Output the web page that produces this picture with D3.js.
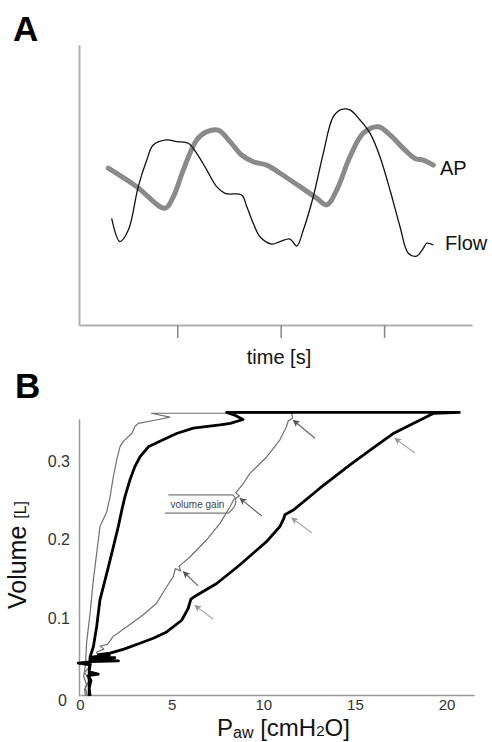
<!DOCTYPE html>
<html><head><meta charset="utf-8">
<script src="https://cdn.jsdelivr.net/npm/d3@7"></script>
<style>
body{margin:0;background:#fff;}
svg{display:block;font-family:Arial,"Liberation Sans",Helvetica,sans-serif;}
</style>
</head><body>
<svg id="c" width="492" height="742"></svg>
<script>
// ---------- Panel A data (time in s, arbitrary units) ----------
const timeTicks = [1, 2, 3];
const flowT = [0.366,0.446,0.527,0.623,0.705,0.768,0.898,0.995,1.107,1.188,1.285,1.381,1.462,1.623,1.672,1.735,1.800,1.913,1.994,2.090,2.155,2.219,2.315,2.412,2.509,2.590,2.670,2.767,2.864,2.960,3.057,3.154,3.234,3.315,3.379,3.412,3.476];
const flowV = [0.381,0.298,0.339,0.494,0.589,0.643,0.661,0.655,0.649,0.613,0.554,0.494,0.470,0.464,0.423,0.363,0.315,0.289,0.298,0.307,0.282,0.339,0.458,0.613,0.744,0.770,0.768,0.732,0.685,0.601,0.482,0.351,0.256,0.246,0.274,0.292,0.286];
const apT = [0.333,0.608,0.882,0.962,1.059,1.188,1.285,1.397,1.510,1.623,1.735,1.865,1.994,2.187,2.348,2.445,2.542,2.670,2.799,2.944,3.057,3.186,3.299,3.379,3.476];
const apV = [0.560,0.494,0.417,0.458,0.554,0.661,0.690,0.696,0.655,0.607,0.583,0.571,0.542,0.494,0.453,0.429,0.482,0.601,0.685,0.708,0.679,0.631,0.595,0.589,0.571];

// ---------- Panel B data (Paw cmH2O, Volume L) ----------
const pressureTicks = [0, 5, 10, 15, 20];
const volumeTicks = [0, 0.1, 0.2, 0.3];
const thinP = [0.4,0.3,0.5,0.25,0.6,0.71,1.0,0.9,1.3,1.1,1.5,1.8,2.55,3.44,4.18,4.6,5.09,5.2,5.5,5.4,6.0,6.91,7.64,8.18,8.4,8.7,8.5,8.91,9.27,10.19,10.91,11.27,11.36,11.6,11.55,
               3.9,4.9,4.3,3.18,3.0,2.82,2.36,2.18,2.0,1.82,1.64,1.46,1.09,0.91,0.73,0.55,0.36,0.3,0.2,0.35,0.25,0.3];
const thinV = [0.0,0.01,0.02,0.03,0.04,0.049,0.052,0.056,0.06,0.064,0.066,0.076,0.0887,0.1037,0.1187,0.135,0.153,0.163,0.160,0.166,0.178,0.2,0.221,0.242,0.252,0.256,0.26,0.272,0.285,0.306,0.328,0.345,0.352,0.356,0.362,
               0.362,0.357,0.354,0.349,0.345,0.336,0.326,0.319,0.302,0.281,0.255,0.236,0.217,0.183,0.149,0.106,0.068,0.04,0.025,0.015,0.008,0.0];
const thickP = [0.55,0.5,0.6,0.45,1.0,0.5,0.55,-0.1,0.6,2.1,0.6,1.9,0.7,1.6,1.0,1.64,2.4,3.27,4.0,4.73,5.55,5.9,6.05,6.3,7.46,8.73,10.19,10.91,11.1,11.18,11.64,13.09,14.73,16.19,17.09,18.18,19.3,20.7,
                8.0,8.4,8.9,8.2,7.64,6.18,5.27,4.36,3.73,3.27,3.0,2.73,2.45,2.3,2.09,1.82,1.46,1.09,0.91,0.73,0.55,0.5,0.5];
const thickV = [0.0,0.01,0.02,0.026,0.028,0.031,0.04,0.042,0.044,0.045,0.047,0.049,0.05,0.052,0.053,0.055,0.06,0.0675,0.074,0.082,0.097,0.112,0.124,0.128,0.144,0.168,0.198,0.217,0.226,0.232,0.238,0.266,0.296,0.321,0.336,0.349,0.362,0.363,
                0.363,0.36,0.354,0.349,0.347,0.343,0.336,0.326,0.319,0.306,0.294,0.277,0.255,0.24,0.217,0.191,0.157,0.123,0.089,0.063,0.05,0.03,0.0];
// arrows: head / tail in data units, tone 0 = dark (thin loop), 1 = light (thick loop)
const arrowHeadP = [11.64, 8.73, 5.64, 17.18, 11.55, 6.27];
const arrowHeadV = [0.353, 0.253, 0.159, 0.330, 0.228, 0.116];
const arrowTailP = [12.82, 9.91, 6.45, 18.27, 12.64, 7.27];
const arrowTailV = [0.330, 0.2305, 0.1409, 0.311, 0.209, 0.0982];
const arrowTone  = [0, 0, 0, 1, 1, 1];
const calloutText = "volume gain";

const svg = d3.select("#c");

// markers
const defs = svg.append("defs");
[["dark","#555"],["light","#999"]].forEach(([id,col])=>{
  defs.append("marker").attr("id","ah-"+id).attr("viewBox","0 0 10 10")
    .attr("refX",9).attr("refY",5).attr("markerWidth",7).attr("markerHeight",7)
    .attr("markerUnits","userSpaceOnUse").attr("orient","auto")
    .append("path").attr("d","M10,5 L0,0 L2.5,5 L0,10 Z").attr("fill",col);
});

// ================= Panel A =================
svg.append("text").attr("x",13).attr("y",41).attr("font-size",35).attr("font-weight","bold").text("A");
const xA = d3.scaleLinear().domain([0.05,3.85]).range([79,472]);
const yA = d3.scaleLinear().domain([0,1]).range([325,45]);

const gAx = svg.append("g").attr("transform","translate(0,325)")
  .call(d3.axisBottom(xA).tickValues(timeTicks).tickSize(13).tickSizeOuter(0).tickFormat(""));
gAx.select(".domain").attr("stroke","#b0b0b0").attr("stroke-width",2);
gAx.selectAll(".tick line").attr("stroke","#888").attr("stroke-width",1.5);
const gAy = svg.append("g").attr("transform","translate(79,0)")
  .call(d3.axisLeft(yA).tickValues([]).tickSizeOuter(0));
gAy.select(".domain").attr("stroke","#b0b0b0").attr("stroke-width",2);

const lineA = d3.line().x(d=>xA(d[0])).y(d=>yA(d[1])).curve(d3.curveCatmullRom);
svg.append("path").datum(apT.map((t,i)=>[t,apV[i]])).attr("d",lineA)
  .attr("fill","none").attr("stroke","#8a8a8a").attr("stroke-width",5).attr("stroke-linejoin","round").attr("stroke-linecap","round");
svg.append("path").datum(flowT.map((t,i)=>[t,flowV[i]])).attr("d",lineA)
  .attr("fill","none").attr("stroke","#111").attr("stroke-width",1.3);

svg.append("text").attr("x",440).attr("y",175).attr("font-size",20).attr("fill","#111").text("AP");
svg.append("text").attr("x",445).attr("y",250).attr("font-size",20).attr("fill","#111").text("Flow");
svg.append("text").attr("x",279).attr("y",364).attr("text-anchor","middle").attr("font-size",20).attr("fill","#111").text("time [s]");

// ================= Panel B =================
svg.append("text").attr("x",15).attr("y",398).attr("font-size",35).attr("font-weight","bold").text("B");
const xB = d3.scaleLinear().domain([0,21.5]).range([80,474]);
const yB = d3.scaleLinear().domain([0,0.355]).range([696,418.7]);

const gBx = svg.append("g").attr("transform","translate(0,695)")
  .call(d3.axisBottom(xB).tickValues(pressureTicks).tickSize(0).tickSizeOuter(0).tickPadding(4).tickFormat(d3.format("d")));
gBx.select(".domain").attr("stroke","#999").attr("stroke-width",1.5);
gBx.selectAll(".tick text").attr("font-size",15).attr("fill","#333").attr("font-family","Arial, 'Liberation Sans', sans-serif");
const gBy = svg.append("g").attr("transform","translate(79,0)")
  .call(d3.axisLeft(yB).tickValues(volumeTicks).tickSize(0).tickSizeOuter(0).tickPadding(9).tickFormat(d=>d===0?"0":d3.format(".1f")(d)));
gBy.select(".domain").attr("stroke","#999").attr("stroke-width",1.5);
gBy.selectAll(".tick text").attr("font-size",16).attr("fill","#333").attr("font-family","Arial, 'Liberation Sans', sans-serif");
gBy.selectAll(".tick").filter(d=>d===0).select("text").attr("dy","0.6em").attr("x",-12);

const lineB = d3.line().x(d=>xB(d[0])).y(d=>yB(d[1]));
svg.append("path").datum(thinP.map((p,i)=>[p,thinV[i]])).attr("d",lineB)
  .attr("fill","none").attr("stroke","#707070").attr("stroke-width",1.2).attr("stroke-linejoin","round");
svg.append("path").datum(thickP.map((p,i)=>[p,thickV[i]])).attr("d",lineB)
  .attr("fill","none").attr("stroke","#000").attr("stroke-width",2.8).attr("stroke-linejoin","round");

// arrows
arrowHeadP.forEach((hp,i)=>{
  const dark = arrowTone[i]===0;
  svg.append("line").attr("x1",xB(arrowTailP[i])).attr("y1",yB(arrowTailV[i]))
    .attr("x2",xB(hp)).attr("y2",yB(arrowHeadV[i]))
    .attr("stroke",dark?"#666":"#aaa").attr("stroke-width",1.2)
    .attr("marker-end",`url(#ah-${dark?"dark":"light"})`);
});

// volume gain callout
const cg = svg.append("g");
cg.append("line").attr("x1",xB(4.82)).attr("x2",xB(8.36)).attr("y1",yB(0.2574)).attr("y2",yB(0.2574)).attr("stroke","#777").attr("stroke-width",1.2);
cg.append("line").attr("x1",xB(4.64)).attr("x2",xB(8.09)).attr("y1",yB(0.234)).attr("y2",yB(0.234)).attr("stroke","#777").attr("stroke-width",1.2);
cg.append("path").attr("d",`M${xB(8.36)},${yB(0.2574)} Q${xB(8.75)},${yB(0.247)} ${xB(8.09)},${yB(0.234)}`).attr("fill","none").attr("stroke","#777").attr("stroke-width",1.2);
cg.append("text").attr("x",xB(6.41)).attr("y",yB(0.2455)).attr("dy","0.35em").attr("text-anchor","middle").attr("font-size",10).attr("fill","#444").text(calloutText);

// axis titles
const vt = svg.append("text").attr("transform","translate(26,555) rotate(-90)").attr("text-anchor","middle").attr("fill","#111");
vt.append("tspan").attr("font-size",25).text("Volume ");
vt.append("tspan").attr("font-size",16).text("[L]");
const pt = svg.append("text").attr("x",217).attr("y",736).attr("fill","#111");
pt.append("tspan").attr("font-size",24).text("P");
pt.append("tspan").attr("font-size",16).attr("dy",2).text("aw");
pt.append("tspan").attr("font-size",24).attr("dy",-2).text(" [cmH");
pt.append("tspan").attr("font-size",15).text("2");
pt.append("tspan").attr("font-size",24).text("O]");
</script>
</body></html>
